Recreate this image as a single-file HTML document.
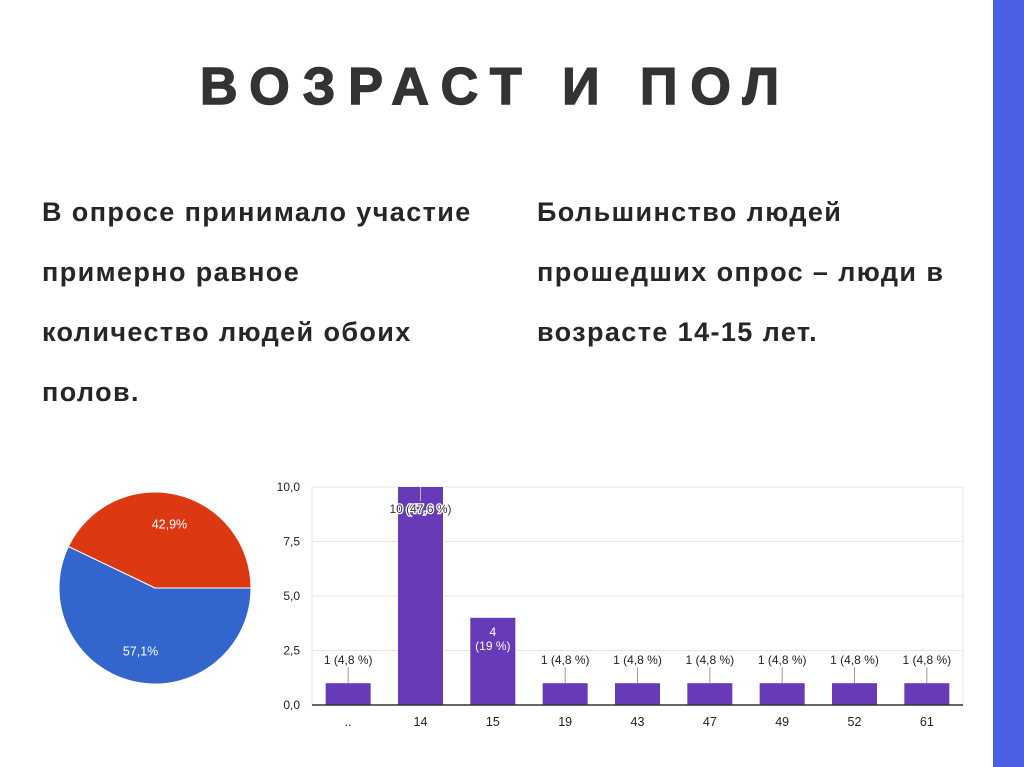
<!DOCTYPE html>
<html><head><meta charset="utf-8"><style>
body{margin:0;width:1024px;height:767px;background:#fff;position:relative;overflow:hidden;font-family:"Liberation Sans","Noto Sans CJK SC",sans-serif}
.t{position:absolute;color:#262626;font-weight:bold}
</style></head><body>
<div style="position:absolute;left:993px;top:0;width:31px;height:767px;background:#4a5ee6"></div>
<div class="t" style="left:200px;top:57px;font-size:52px;letter-spacing:13px;color:#333;line-height:60px;-webkit-text-stroke:1.5px #333">ВОЗРАСТ И ПОЛ</div>
<div class="t" style="left:42px;top:182px;font-size:27px;letter-spacing:1.4px;line-height:60px;width:470px">В опросе принимало участие<br>примерно равное<br>количество людей обоих<br>полов.</div>
<div class="t" style="left:537px;top:182px;font-size:27px;letter-spacing:1.4px;line-height:60px;width:450px">Большинство людей<br>прошедших опрос – люди в<br>возрасте 14-15 лет.</div>
<svg id="pie" style="position:absolute;left:0;top:0" width="300" height="767"></svg>
<svg id="bar" style="position:absolute;left:0;top:0" width="990" height="767"></svg>
<script>
const pieLabels=["42,9%","57,1%"];
const pieValues=[42.9,57.1];
const pieColors=["#dc3912","#3366cc"];
const cats=["..","14","15","19","43","47","49","52","61"];
const vals=[1,10,4,1,1,1,1,1,1];
const valLabels=["1 (4,8 %)","10 (47,6 %)","4|(19 %)","1 (4,8 %)","1 (4,8 %)","1 (4,8 %)","1 (4,8 %)","1 (4,8 %)","1 (4,8 %)"];
const ticks=[0,2.5,5,7.5,10];
const tickLabels=["0,0","2,5","5,0","7,5","10,0"];
const NS="http://www.w3.org/2000/svg";
function mk(p,t,a){const e=document.createElementNS(NS,t);for(const k in a)e.setAttribute(k,a[k]);p.appendChild(e);return e;}
const pie=document.getElementById('pie');
const cx=155,cy=588,r=96;let tot=pieValues.reduce((a,b)=>a+b,0);let a0=0;
pieValues.forEach((v,i)=>{const a1=a0+v/tot*2*Math.PI;
 const x0=cx+r*Math.cos(a0),y0=cy-r*Math.sin(a0),x1=cx+r*Math.cos(a1),y1=cy-r*Math.sin(a1);
 const large=(a1-a0)>Math.PI?1:0;
 const p=mk(pie,'path',{d:`M${cx},${cy}L${x0},${y0}A${r},${r} 0 ${large} 0 ${x1},${y1}Z`,fill:pieColors[i],stroke:'#fff','stroke-width':1});
 
 
 const am=(a0+a1)/2;const t=mk(pie,'text',{x:cx+r*0.68*Math.cos(am),y:cy-r*0.68*Math.sin(am)+4,fill:'#fff','font-size':12.5,'text-anchor':'middle','font-family':'Liberation Sans, sans-serif'});
 t.textContent=pieLabels[i];
 
 
 a0=a1;});
const bar=document.getElementById('bar');
const L=312,R=963,Y0=705,Y10=487;
const y=v=>Y0-(v/10)*(Y0-Y10);
const step=(R-L)/cats.length;const x=i=>L+step*(i+0.5);const bw=45;
const F='Liberation Sans, sans-serif';
ticks.forEach((t,i)=>{const g=mk(bar,'line',{x1:L,x2:R,y1:y(t),y2:y(t),stroke:'#e4e4e4'});
 
 const tl=mk(bar,'text',{x:L-12,y:y(t)+4,'font-size':12,fill:'#222','text-anchor':'end','font-family':F});tl.textContent=tickLabels[i];
 });
mk(bar,'line',{x1:L,x2:L,y1:Y10,y2:Y0,stroke:'#e4e4e4'});
mk(bar,'line',{x1:R,x2:R,y1:Y10,y2:Y0,stroke:'#e4e4e4'});
vals.forEach((v,i)=>{const b=mk(bar,'rect',{x:x(i)-bw/2,y:y(v),width:bw,height:Y0-y(v),fill:'#673ab7'});
 
 const cl=mk(bar,'text',{x:x(i),y:Y0+21,'font-size':12.5,fill:'#222','text-anchor':'middle','font-family':F});cl.textContent=cats[i];
 
 const parts=valLabels[i].split('|');
 if(parts.length>1){parts.forEach((p,k)=>{const t=mk(bar,'text',{x:x(i),y:y(v)+18+k*14,'font-size':12,fill:'#fff','text-anchor':'middle','font-family':F});t.textContent=p;
  });}
 else if(v>=8){const t=mk(bar,'text',{x:x(i),y:y(v)+26,'font-size':12,fill:'#333','text-anchor':'middle','font-family':F,stroke:'#fff','stroke-width':2.5,'paint-order':'stroke'});t.textContent=valLabels[i];
  
  mk(bar,'line',{x1:x(i),x2:x(i),y1:y(v),y2:y(v)+14,stroke:'#bbb'});}
 else{mk(bar,'line',{x1:x(i),x2:x(i),y1:y(v)-16,y2:y(v),stroke:'#999'});
  const t=mk(bar,'text',{x:x(i),y:y(v)-19,'font-size':12,fill:'#222','text-anchor':'middle','font-family':F});t.textContent=valLabels[i];
  }
});
const ax=mk(bar,'line',{x1:L,x2:R,y1:Y0,y2:Y0,stroke:'#333','stroke-width':1.5});

</script>
</body></html>
